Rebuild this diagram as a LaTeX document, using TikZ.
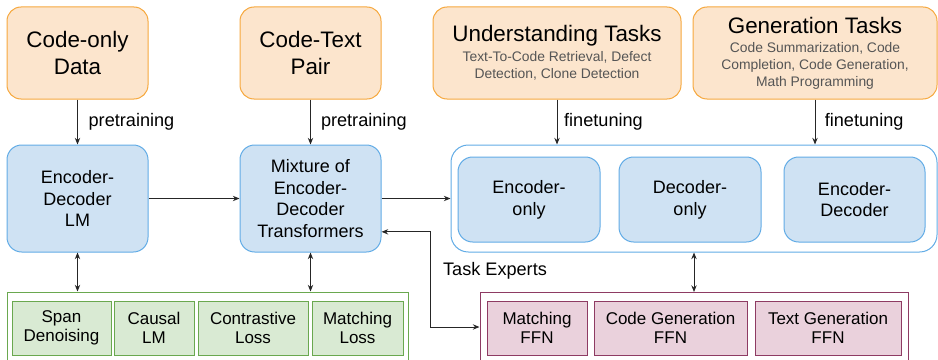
\documentclass[tikz,border=0pt]{standalone}
\usepackage{fontspec}
\setmainfont{Liberation Sans}
\usepackage{xcolor}
\usetikzlibrary{arrows.meta,positioning,calc}

\definecolor{dataFill}{HTML}{FCE5CD}
\definecolor{dataLine}{HTML}{F6A83E}
\definecolor{modelFill}{HTML}{CFE2F3}
\definecolor{modelLine}{HTML}{62ACE6}
\definecolor{lossFill}{HTML}{D9EAD3}
\definecolor{lossLine}{HTML}{6AA84F}
\definecolor{ffnFill}{HTML}{EAD1DC}
\definecolor{ffnLine}{HTML}{8E3B63}
\definecolor{subGray}{HTML}{555555}

\begin{document}
\begin{tikzpicture}[x=0.75pt, y=-0.75pt,
    every node/.style={align=center, inner sep=0pt},
    databox/.style={draw=dataLine, fill=dataFill, line width=0.75pt, rounded corners=10.5pt,
        minimum height=69pt, font=\fontsize{16.8}{19.9}\selectfont},
    modelbox/.style={draw=modelLine, fill=modelFill, line width=0.75pt, rounded corners=11pt,
        minimum width=105.75pt, minimum height=80.25pt, font=\fontsize{13.5}{16.3}\selectfont},
    lossbox/.style={draw=lossLine, fill=lossFill, line width=0.75pt,
        minimum height=40.5pt, font=\fontsize{12.75}{14.5}\selectfont},
    ffnbox/.style={draw=ffnLine, fill=ffnFill, line width=0.75pt,
        minimum height=40.5pt, font=\fontsize{12.75}{14.5}\selectfont},
    lbl/.style={font=\fontsize{13.6}{16}\selectfont},
    arr/.style={draw=black!85, line width=0.75pt, -{Stealth[length=5pt,width=4pt]}},
    dblarr/.style={draw=black!85, line width=0.75pt, {Stealth[length=5pt,width=4pt]}-{Stealth[length=5pt,width=4pt]}}
]
    \useasboundingbox (0,0) rectangle (938,360);

    % Data and task boxes
    \node[databox, minimum width=105.75pt] (codeonly) at (77.5,53) {Code-only\\Data};
    \node[databox, minimum width=105.75pt] (codetext) at (310.5,53) {Code-Text\\Pair};
    \node[databox, minimum width=186pt] (undtasks) at (557,53)
        {Understanding Tasks\\[-4.9pt]
         {\color{subGray}\fontsize{10.4}{12.7}\selectfont Text-To-Code Retrieval, Defect}\\[-7.15pt]
         {\color{subGray}\fontsize{10.4}{12.7}\selectfont Detection, Clone Detection}};
    \node[databox, minimum width=183pt] (gentasks) at (815,53)
        {Generation Tasks\\[-5.65pt]
         {\color{subGray}\fontsize{10.4}{12.7}\selectfont Code Summarization, Code}\\[-7.15pt]
         {\color{subGray}\fontsize{10.4}{12.7}\selectfont Completion, Code Generation,}\\[-7.15pt]
         {\color{subGray}\fontsize{10.4}{12.7}\selectfont Math Programming}};

    % Models
    \node[modelbox] (edlm) at (77.5,198.5) {Encoder-\\Decoder\\LM};
    \node[modelbox] (mixture) at (310.5,198.5) {Mixture of\\Encoder-\\Decoder\\Transformers};
    \node[draw=modelLine, fill=white, line width=0.75pt, rounded corners=13pt,
        minimum width=364.5pt, minimum height=80.25pt] (finetuned) at (694,198.5) {};
    \node[modelbox, minimum width=106.5pt, minimum height=63.75pt] (enconly) at (529,199.5) {Encoder-\\only};
    \node[modelbox, minimum width=106.5pt, minimum height=63.75pt] (deconly) at (690,199.5) {Decoder-\\only};
    \node[modelbox, minimum width=105.75pt, minimum height=63.75pt] (encdec) at (854.5,199.5) {Encoder-\\Decoder};

    % Training objectives
    \node[draw=lossLine, fill=white, line width=0.75pt, minimum width=300.75pt, minimum height=52.5pt] (losses) at (207.5,327) {};
    \node[lossbox, minimum width=74.25pt] (span) at (61.5,328) {Span\\Denoising};
    \node[lossbox, minimum width=60pt] (causal) at (154,328) {Causal\\LM};
    \node[lossbox, minimum width=82.5pt] (contrast) at (253,328) {Contrastive\\Loss};
    \node[lossbox, minimum width=68.25pt] (matchloss) at (357.5,328) {Matching\\Loss};

    % Task experts
    \node[draw=ffnLine, fill=white, line width=0.75pt, minimum width=321pt, minimum height=51.75pt] (experts) at (694,327) {};
    \node[ffnbox, minimum width=75pt] (matchffn) at (537,328) {Matching\\FFN};
    \node[ffnbox, minimum width=114.75pt] (codegenffn) at (670.5,328) {Code Generation\\FFN};
    \node[ffnbox, minimum width=109.5pt] (textgenffn) at (828,328) {Text Generation\\FFN};
    \node[lbl] (explabel) at (495,271) {Task Experts};

    % Connections
    \draw[arr] (codeonly) -- (edlm) node[lbl, midway, right=8pt] {pretraining};
    \draw[arr] (codetext) -- (mixture) node[lbl, midway, right=7.5pt] {pretraining};
    \draw[arr] (undtasks) -- (undtasks |- finetuned.north) node[lbl, midway, right=5pt] {finetuning};
    \draw[arr] (gentasks) -- (gentasks |- finetuned.north) node[lbl, midway, right=7pt] {finetuning};
    \draw[arr] (edlm) -- (mixture);
    \draw[arr] (mixture) -- (finetuned);
    \draw[dblarr] (edlm) -- (edlm |- losses.north);
    \draw[dblarr] (mixture) -- (mixture |- losses.north);
    \draw[dblarr] (finetuned) -- (finetuned |- experts.north);
    \draw[dblarr] ([yshift=-25pt]mixture.east) -| ($(mixture.east)!0.5!(experts.west)$) |- (experts.west);
\end{tikzpicture}
\end{document}
